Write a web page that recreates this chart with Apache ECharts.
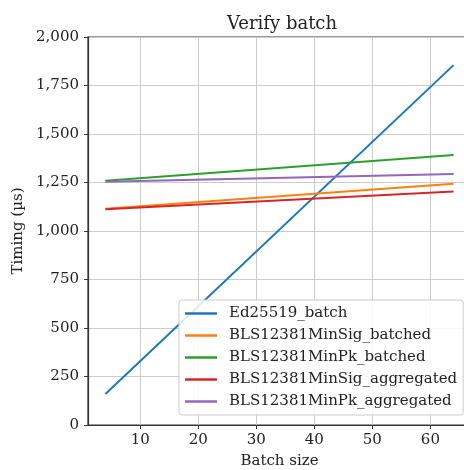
<!DOCTYPE html>
<html>
<head>
<meta charset="utf-8">
<script src="https://cdn.jsdelivr.net/npm/echarts@6/dist/echarts.min.js"></script>
<style>
  html, body { margin: 0; padding: 0; background: #fff; overflow: hidden; }
  #chart { width: 464px; height: 470px; }
</style>
</head>
<body>
<div id="chart"></div>
<script>
// batch sizes and timings (µs)
var batchSizes = [4, 64];
var ed25519Batch = [160, 1855];
var minSigBatched = [1115, 1244];
var minPkBatched = [1259, 1392];
var minSigAggregated = [1112, 1203];
var minPkAggregated = [1254, 1294];

var xTicks = [10, 20, 30, 40, 50, 60];
var seriesNames = ['Ed25519_batch', 'BLS12381MinSig_batched', 'BLS12381MinPk_batched',
  'BLS12381MinSig_aggregated', 'BLS12381MinPk_aggregated'];
var seriesColors = ['#1f77b4', '#ff7f0e', '#2ca02c', '#d62728', '#9467bd'];
var seriesValues = [ed25519Batch, minSigBatched, minPkBatched, minSigAggregated, minPkAggregated];

var font = 'DejaVu Serif';

function pairUp(xs, ys) {
  var out = [];
  for (var i = 0; i < xs.length; i++) out.push([xs[i], ys[i]]);
  return out;
}

var series = [];
for (var i = 0; i < seriesNames.length; i++) {
  series.push({
    name: seriesNames[i],
    type: 'line',
    symbol: 'none',
    silent: true,
    lineStyle: { color: seriesColors[i], width: 2 },
    itemStyle: { color: seriesColors[i] },
    data: pairUp(batchSizes, seriesValues[i])
  });
}

var chart = echarts.init(document.getElementById('chart'), null, { renderer: 'canvas' });
chart.setOption({
  animation: false,
  backgroundColor: '#fff',
  title: {
    text: 'Verify batch',
    left: 277, top: 10,
    textAlign: 'center',
    textStyle: { fontFamily: font, fontSize: 18, fontWeight: 'normal', color: '#222' }
  },
  grid: {
    left: 88, top: 37, right: -7, bottom: 45,
    outerBoundsMode: 'none', containLabel: false,
    show: true, borderColor: '#333', borderWidth: 1.2
  },
  legend: {
    orient: 'vertical',
    left: 179, top: 300,
    icon: 'rect',
    itemWidth: 32, itemHeight: 2.5,
    itemGap: 5,
    padding: [5, 6, 5, 6],
    backgroundColor: 'rgba(255,255,255,0.85)',
    borderColor: '#ccc', borderWidth: 1, borderRadius: 3,
    textStyle: { fontFamily: font, fontSize: 15, color: '#222', lineHeight: 17, padding: [0, 0, 0, 7] },
    data: seriesNames
  },
  xAxis: {
    type: 'value',
    min: 1, max: 67,
    name: 'Batch size',
    nameLocation: 'middle',
    nameGap: 29,
    nameTextStyle: { fontFamily: font, fontSize: 15, color: '#222' },
    axisLine: { show: true, onZero: false, lineStyle: { color: '#333', width: 1.2 } },
    axisTick: { show: true, length: 4, lineStyle: { color: '#333' }, customValues: xTicks },
    axisLabel: { fontFamily: font, fontSize: 15, color: '#222', margin: 8, customValues: xTicks },
    splitLine: { show: true, lineStyle: { color: '#ccc', width: 1 } }
  },
  yAxis: {
    type: 'value',
    min: 0, max: 2000, interval: 250,
    name: 'Timing (µs)',
    nameLocation: 'middle',
    nameGap: 58,
    nameRotate: 90,
    nameTextStyle: { fontFamily: font, fontSize: 15, color: '#222' },
    axisLine: { show: true, lineStyle: { color: '#333', width: 1.2 } },
    axisTick: { show: true, length: 4, lineStyle: { color: '#333' } },
    axisLabel: {
      fontFamily: font, fontSize: 15, color: '#222', margin: 9,
      formatter: function (v) { return v.toLocaleString('en-US'); }
    },
    splitLine: { show: true, lineStyle: { color: '#ccc', width: 1 } }
  },
  series: series
});
</script>
</body>
</html>
